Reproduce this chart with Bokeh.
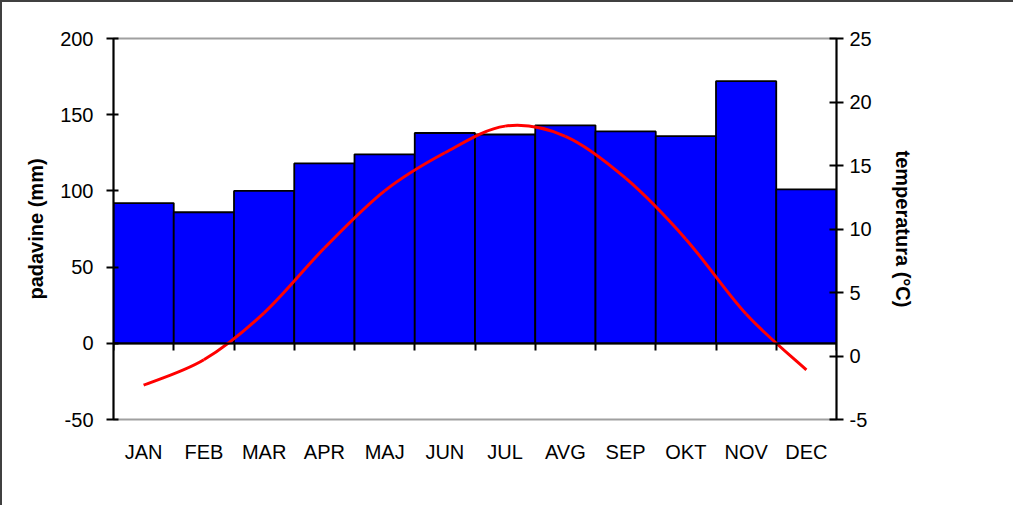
import numpy as np
from bokeh.plotting import figure
from bokeh.models import Range1d, LinearAxis, FixedTicker, ColumnDataSource
from bokeh.embed import file_html
from bokeh.resources import INLINE

months = ["JAN", "FEB", "MAR", "APR", "MAJ", "JUN", "JUL", "AVG", "SEP", "OKT", "NOV", "DEC"]
precip_mm = [92, 86, 100, 118, 124, 138, 137, 143, 139, 136, 172, 101]
temp_c = [-2.3, -0.3, 3.4, 8.5, 13.0, 16.0, 18.1, 17.3, 14.0, 9.2, 3.3, -1.1]
left_ticks = [-50, 0, 50, 100, 150, 200]
right_ticks = [-5, 0, 5, 10, 15, 20, 25]

FONT = "Liberation Sans"
n = len(months)
centers = [i + 0.5 for i in range(n)]

p = figure(width=1013, height=505, output_backend="svg", toolbar_location=None,
           x_range=Range1d(0, n), y_range=Range1d(-50, 200),
           min_border_left=111, min_border_right=179, min_border_top=36, min_border_bottom=88,
           x_axis_location=None, y_axis_location=None)
p.styles = {"border-top": "2px solid #404040", "border-left": "2px solid #404040"}
p.xgrid.visible = False
p.ygrid.visible = False
p.outline_line_color = "#a0a0a0"
p.outline_line_width = 2
p.background_fill_color = "white"
p.border_fill_color = "white"
p.extra_y_ranges = {"temp": Range1d(-5, 25)}

# bars
src = ColumnDataSource(dict(x=centers, top=precip_mm, m=months))
p.vbar(x="x", top="top", bottom=0, width=1.0, source=src,
       fill_color="#0000FF", line_color="black", line_width=1.8)

# smoothed temperature line (Bezier through the data points)
xs = np.array(centers, dtype=float)
ys = np.array(temp_c, dtype=float)
xp = np.concatenate([[xs[0]], xs, [xs[-1]]])
yp = np.concatenate([[ys[0]], ys, [ys[-1]]])
x0 = xs[:-1]; y0 = ys[:-1]; x1 = xs[1:]; y1 = ys[1:]
cx0 = x0 + (xp[2:-1] - xp[0:-3]) / 6.0
cy0 = y0 + (yp[2:-1] - yp[0:-3]) / 6.0
cx1 = x1 - (xp[3:] - xp[1:-2]) / 6.0
cy1 = y1 - (yp[3:] - yp[1:-2]) / 6.0
p.bezier(x0=x0, y0=y0, x1=x1, y1=y1, cx0=cx0, cy0=cy0, cx1=cx1, cy1=cy1,
         line_color="#FF0000", line_width=3, y_range_name="temp")

def style(ax, size="20px"):
    ax.major_label_text_font = FONT
    ax.major_label_text_font_size = size
    ax.major_label_text_color = "black"
    ax.axis_label_text_font = FONT
    ax.axis_label_text_font_size = "20px"
    ax.axis_label_text_font_style = "bold"
    ax.axis_label_text_color = "black"
    ax.axis_line_color = "black"
    ax.axis_line_width = 2
    ax.major_tick_line_color = "black"
    ax.major_tick_line_width = 2
    ax.minor_tick_line_color = None

# left axis
la = LinearAxis(ticker=FixedTicker(ticks=left_ticks), axis_label="padavine (mm)",
                major_label_overrides={t: str(t) for t in left_ticks})
style(la)
la.major_tick_in = 5
la.major_tick_out = 7
la.major_label_standoff = 13
la.axis_label_standoff = 10
p.add_layout(la, "left")

# right axis
ra = LinearAxis(ticker=FixedTicker(ticks=right_ticks), y_range_name="temp",
                axis_label="temperatura (°C)",
                major_label_overrides={t: str(t) for t in right_ticks})
style(ra)
ra.major_tick_in = 7
ra.major_tick_out = 7
ra.major_label_standoff = 6
ra.axis_label_standoff = 17
p.add_layout(ra, "right")

# bottom category labels
ba = LinearAxis(ticker=FixedTicker(ticks=centers),
                major_label_overrides={c: m for c, m in zip(centers, months)})
style(ba)
ba.axis_line_color = None
ba.major_tick_in = 0
ba.major_tick_out = 0
ba.major_label_standoff = 21
p.add_layout(ba, "below")

# category tick marks at zero line
za = LinearAxis(ticker=FixedTicker(ticks=list(range(n + 1))), fixed_location=0)
style(za)
za.major_label_text_font_size = "0px"
za.major_label_text_alpha = 0
za.major_tick_in = 0
za.major_tick_out = 7
za.major_label_standoff = 0
p.add_layout(za, "below")

open("out.html", "w").write(file_html(p, INLINE))
